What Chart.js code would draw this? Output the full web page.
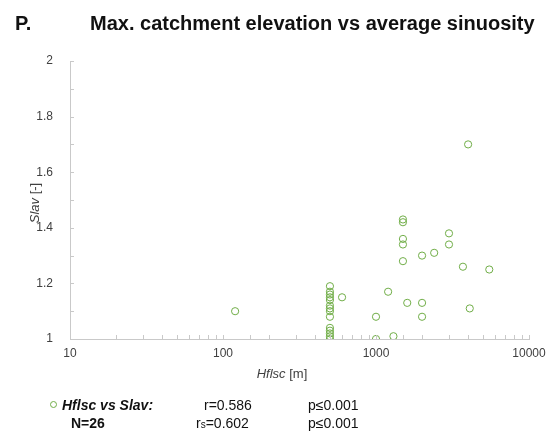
<!DOCTYPE html>
<html>
<head>
<meta charset="utf-8">
<script src="https://cdn.jsdelivr.net/npm/chart.js@4/dist/chart.umd.min.js"></script>
<style>
  html, body { margin: 0; padding: 0; background: #fff; }
  #wrap { position: relative; width: 554px; height: 434px; font-family: "Liberation Sans", Arial, sans-serif; }
  canvas { position: absolute; left: 0; top: 0; }
  .t { position: absolute; white-space: nowrap; color: #000; line-height: 1; }
  .title { font-weight: bold; font-size: 20px; top: 13px; color: #111; }
  .stat { font-size: 14px; color: #111; }
  .mk { position: absolute; width: 5px; height: 5px; border: 1px solid #70AD47; border-radius: 50%; }
</style>
</head>
<body>
<div id="wrap">
  <canvas id="c" width="554" height="434"></canvas>
  <div class="t title" style="left:15px;">P.</div>
  <div class="t title" style="left:90px;">Max. catchment elevation vs average sinuosity</div>
  <div class="mk" style="left:50px; top:401px;"></div>
  <div class="t stat" style="left:62px; top:398px; font-weight:bold; font-style:italic;">Hflsc vs Slav:</div>
  <div class="t stat" style="left:204px; top:398px;">r=0.586</div>
  <div class="t stat" style="left:308px; top:398px;">p≤0.001</div>
  <div class="t stat" style="left:71px; top:416px; font-weight:bold;">N=26</div>
  <div class="t stat" style="left:196px; top:416px;">r<span style="font-size:10px;">s</span>=0.602</div>
  <div class="t stat" style="left:308px; top:416px;">p≤0.001</div>
</div>
<script>
// Max. catchment elevation (m) and average sinuosity per catchment
const hflsc = [120,
  500, 500, 500, 500, 500, 500, 500, 500, 500, 500, 500, 500, 500, 500,
  600, 1000, 1000, 1200, 1300,
  1500, 1500, 1500, 1500, 1500,
  1600, 2000, 2000, 2000, 2400, 3000, 3000, 3700, 4000, 4100, 5500];
const slav = [1.10,
  1.19, 1.17, 1.16, 1.15, 1.14, 1.12, 1.11, 1.10, 1.08, 1.04, 1.03, 1.02, 1.01, 1.00,
  1.15, 1.08, 1.00, 1.17, 1.01,
  1.43, 1.42, 1.36, 1.34, 1.28,
  1.13, 1.30, 1.13, 1.08, 1.31, 1.38, 1.34, 1.26, 1.70, 1.11, 1.25];
const xDecades = [10, 100, 1000, 10000];
const yLabels = [1, 1.2, 1.4, 1.6, 1.8, 2];

const points = hflsc.map((x, i) => ({ x: x, y: slav[i] }));

const AREA = { left: 70, right: 529, top: 61, bottom: 339 };
const tickColor = '#404040';
const lineColor = '#c9c9c9';

// Small inward tick marks and the two axis titles
const axisDecor = {
  id: 'axisDecor',
  afterDraw(chart) {
    const ctx = chart.ctx;
    const xs = chart.scales.x, ys = chart.scales.y;
    const a = chart.chartArea;
    ctx.save();
    ctx.strokeStyle = lineColor;
    ctx.lineWidth = 1;
    ctx.beginPath();
    xs.ticks.forEach(t => {
      const px = Math.round(xs.getPixelForValue(t.value)) + 0.5;
      ctx.moveTo(px, a.bottom);
      ctx.lineTo(px, a.bottom - 4);
    });
    ys.ticks.forEach(t => {
      const py = Math.round(ys.getPixelForValue(t.value)) + 0.5;
      ctx.moveTo(a.left, py);
      ctx.lineTo(a.left + 4, py);
    });
    ctx.stroke();

    ctx.fillStyle = '#404040';
    ctx.textBaseline = 'middle';
    // x title: italic symbol + unit
    const f1 = 'italic 13px "Liberation Sans", Arial, sans-serif';
    const f2 = '13px "Liberation Sans", Arial, sans-serif';
    ctx.font = f1; const w1 = ctx.measureText('Hflsc').width;
    ctx.font = f2; const w2 = ctx.measureText(' [m]').width;
    let x0 = 282 - (w1 + w2) / 2;
    ctx.textAlign = 'left';
    ctx.font = f1; ctx.fillText('Hflsc', x0, 374);
    ctx.font = f2; ctx.fillText(' [m]', x0 + w1, 374);
    // y title, rotated
    ctx.translate(35, (a.top + a.bottom) / 2 + 3);
    ctx.rotate(-Math.PI / 2);
    ctx.font = f1; const v1 = ctx.measureText('Slav').width;
    ctx.font = f2; const v2 = ctx.measureText(' [-]').width;
    x0 = -(v1 + v2) / 2;
    ctx.font = f1; ctx.fillText('Slav', x0, 0);
    ctx.font = f2; ctx.fillText(' [-]', x0 + v1, 0);
    ctx.restore();
  }
};

new Chart(document.getElementById('c'), {
  type: 'scatter',
  data: {
    datasets: [{
      label: 'Hflsc vs Slav',
      data: points,
      pointStyle: 'circle',
      pointRadius: 3.6,
      pointHoverRadius: 3.6,
      borderWidth: 1,
      borderColor: '#70AD47',
      backgroundColor: 'rgba(0,0,0,0)'
    }]
  },
  options: {
    responsive: false,
    animation: false,
    devicePixelRatio: 1,
    layout: { padding: { left: 0, right: 554 - AREA.right, top: AREA.top, bottom: 0 } },
    plugins: { legend: { display: false }, tooltip: { enabled: false }, title: { display: false } },
    scales: {
      x: {
        type: 'logarithmic',
        min: 10, max: 10000,
        grid: { display: true, drawOnChartArea: false, drawTicks: false, color: lineColor },
        border: { display: true, color: lineColor },
        ticks: {
          color: tickColor,
          font: { family: '"Liberation Sans", Arial, sans-serif', size: 12 },
          padding: 7,
          autoSkip: false,
          maxRotation: 0,
          callback: (v) => xDecades.includes(Math.round(v)) ? String(Math.round(v)) : ''
        },
        afterFit: (s) => { s.height = 434 - AREA.bottom; }
      },
      y: {
        min: 1, max: 2,
        grid: { display: true, drawOnChartArea: false, drawTicks: false, color: lineColor },
        border: { display: true, color: lineColor },
        ticks: {
          stepSize: 0.1,
          color: tickColor,
          font: { family: '"Liberation Sans", Arial, sans-serif', size: 12 },
          padding: 17,
          autoSkip: false,
          callback: (v) => {
            const r = Math.round(v * 10) / 10;
            return yLabels.some(l => Math.abs(l - r) < 1e-9) ? String(r) : '';
          }
        },
        afterFit: (s) => { s.width = AREA.left; }
      }
    }
  },
  plugins: [axisDecor]
});
</script>
</body>
</html>
